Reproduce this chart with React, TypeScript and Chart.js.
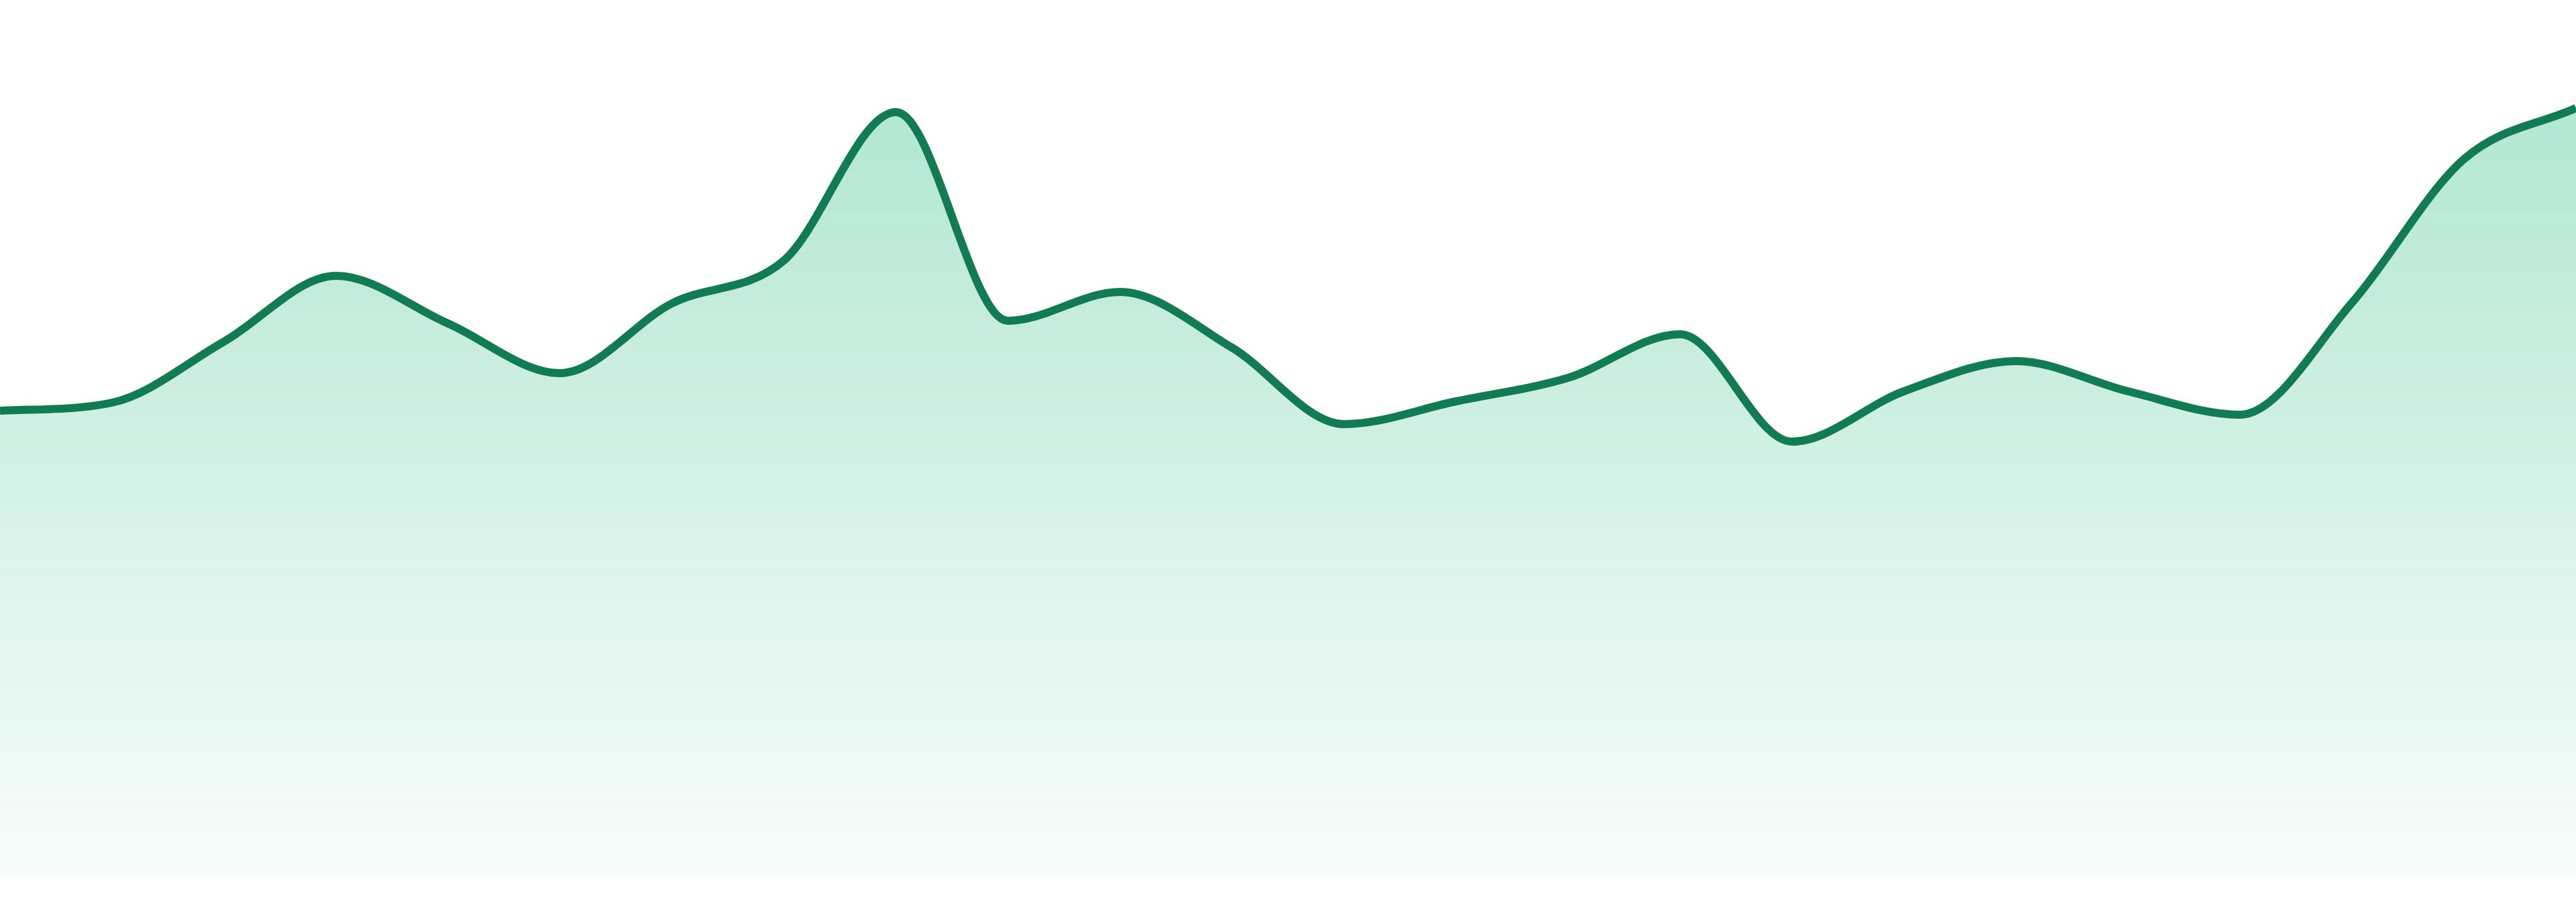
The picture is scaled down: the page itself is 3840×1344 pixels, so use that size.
import React, { useEffect, useRef } from "react";
import { Chart, registerables } from "chart.js";

Chart.register(...registerables);

const labels: string[] = [
  "1", "2", "3", "4", "5", "6", "7", "8", "9", "10", "11", "12",
  "13", "14", "15", "16", "17", "18", "19", "20", "21", "22", "23", "24",
];

const values: number[] = [
  693, 705, 796, 894, 823, 749, 853, 917, 1138, 827, 870, 787,
  673, 707, 742, 807, 647, 722, 767, 722, 687, 854, 1068, 1144,
];

const yMin = 0;
const yMax = 1305;

export default function App() {
  const ref = useRef<HTMLCanvasElement | null>(null);

  useEffect(() => {
    document.body.style.margin = "0";
    const canvas = ref.current;
    if (!canvas) return;
    const chart = new Chart(canvas, {
      type: "line",
      data: {
        labels,
        datasets: [
          {
            data: values,
            borderColor: "rgb(17,123,83)",
            borderWidth: 12,
            cubicInterpolationMode: "monotone",
            pointRadius: 0,
            pointHoverRadius: 0,
            fill: "start",
            backgroundColor: (ctx: any) => {
              const c = ctx.chart;
              const area = c.chartArea;
              if (!area) return "rgba(16,178,118,0.2)";
              const g = c.ctx.createLinearGradient(0, area.top, 0, area.bottom);
              g.addColorStop(0, "rgba(16,178,118,0.36)");
              g.addColorStop(1, "rgba(16,178,118,0.03)");
              return g;
            },
          },
        ],
      },
      options: {
        animation: false,
        responsive: false,
        devicePixelRatio: 1,
        layout: { padding: { top: 0, left: 0, right: 0, bottom: 39 } },
        plugins: { legend: { display: false }, tooltip: { enabled: false } },
        scales: {
          x: { display: false },
          y: { display: false, min: yMin, max: yMax },
        },
      },
    });
    return () => chart.destroy();
  }, []);

  return (
    <div style={{ position: "fixed", left: 0, top: 0, width: "3840px", height: "1344px", background: "#fff" }}>
      <canvas ref={ref} width={3840} height={1344} style={{ width: "3840px", height: "1344px", display: "block" }} />
    </div>
  );
}
